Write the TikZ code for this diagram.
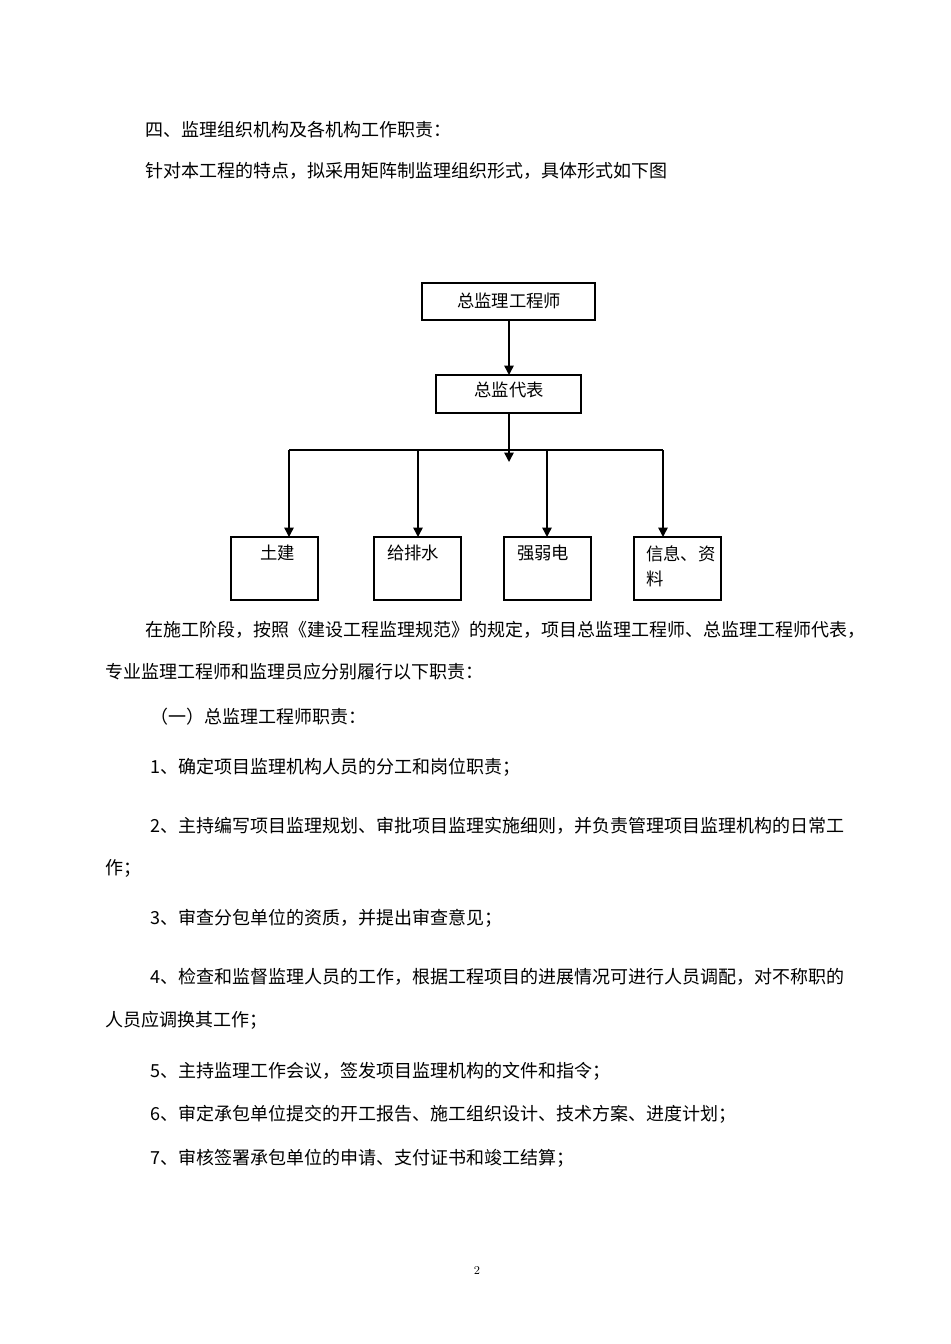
\documentclass[tikz,border=0pt]{standalone}
\usepackage{fontspec}
\newfontfamily\cjk{Noto Sans CJK SC}
\usetikzlibrary{arrows.meta}
\begin{document}
\begin{tikzpicture}[x=0.75pt,y=-0.75pt,
  txt/.style={anchor=west,inner sep=0pt,font=\cjk\fontsize{13.5}{15}\selectfont},
  box/.style={draw,line width=0.9pt},
  lbl/.style={anchor=north west,inner sep=0pt,font=\cjk\fontsize{13}{19}\selectfont,align=left},
  arr/.style={line width=1.1pt,-{Triangle[length=7pt,width=7pt]}},
  ln/.style={line width=1.1pt}]
\useasboundingbox (0,0) rectangle (950,1344);
\node[txt] (t1) at (145,130) {四、监理组织机构及各机构工作职责：};
\node[txt] (t2) at (145,171) {针对本工程的特点，拟采用矩阵制监理组织形式，具体形式如下图};
% chart
\draw[box] (422,283) rectangle (595,320);
\node[lbl,anchor=center] (zj) at (509,301) {总监理工程师};
\draw[box] (436,375) rectangle (581,413);
\node[lbl,anchor=center] (db) at (509,390) {总监代表};
\coordinate (top1) at (509,320);
\coordinate (mid1) at (509,375);
\draw[arr] (top1) -- (mid1);
\coordinate (m2) at (509,413);
\coordinate (m3) at (509,462);
\draw[arr] (m2) -- (m3);
\coordinate (hl) at (289,450);
\coordinate (hr) at (663,450);
\draw[ln] (hl) -- (hr);
\foreach \x/\a/\b/\n in {289/231/318/b1, 418/374/461/b2, 547/504/591/b3, 663/634/721/b4}{
  \draw[box] (\a,537) rectangle (\b,600);
  \coordinate (s\n) at (\x,450);
  \coordinate (e\n) at (\x,537);
  \draw[arr] (s\n) -- (e\n);
}
\node[lbl] (l1) at (260,545) {土建};
\node[lbl] (l2) at (387,545) {给排水};
\node[lbl] (l3) at (517,545) {强弱电};
\node[lbl] (l4) at (646,545) {信息、资\\料};
% text
\node[txt] (p1) at (145,630) {在施工阶段，按照《建设工程监理规范》的规定，项目总监理工程师、总监理工程师代表，};
\node[txt] (p2) at (105,672) {专业监理工程师和监理员应分别履行以下职责：};
\node[txt] (h1) at (150,717) {（一）总监理工程师职责：};
\node[txt] (i1) at (150,767) {1、确定项目监理机构人员的分工和岗位职责；};
\node[txt] (i2) at (150,826) {2、主持编写项目监理规划、审批项目监理实施细则，并负责管理项目监理机构的日常工};
\node[txt] (i2b) at (105,868) {作；};
\node[txt] (i3) at (150,918) {3、审查分包单位的资质，并提出审查意见；};
\node[txt] (i4) at (150,977) {4、检查和监督监理人员的工作，根据工程项目的进展情况可进行人员调配，对不称职的};
\node[txt] (i4b) at (105,1020) {人员应调换其工作；};
\node[txt] (i5) at (150,1071) {5、主持监理工作会议，签发项目监理机构的文件和指令；};
\node[txt] (i6) at (150,1114) {6、审定承包单位提交的开工报告、施工组织设计、技术方案、进度计划；};
\node[txt] (i7) at (150,1158) {7、审核签署承包单位的申请、支付证书和竣工结算；};
\node[font=\fontsize{9}{10}\selectfont] (pg) at (477,1270) {2};
\end{tikzpicture}
\end{document}
